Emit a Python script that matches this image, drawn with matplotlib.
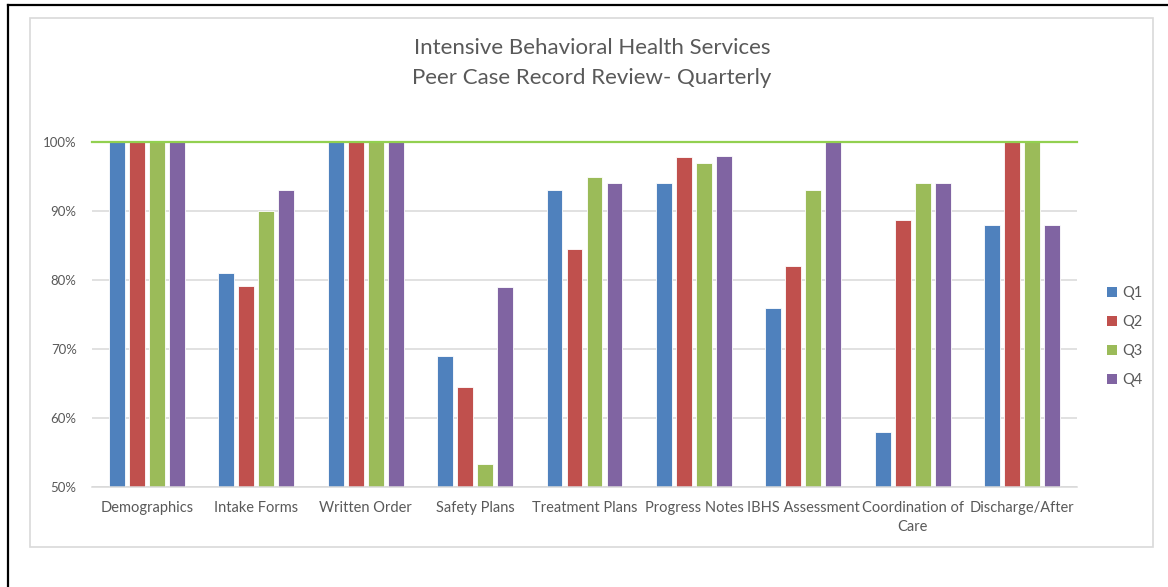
import numpy as np
import matplotlib
matplotlib.use("Agg")
import matplotlib.pyplot as plt
from matplotlib.patches import Rectangle, Patch
from matplotlib.lines import Line2D
from matplotlib.ticker import PercentFormatter

categories = ["Demographics", "Intake Forms", "Written Order", "Safety Plans",
              "Treatment Plans", "Progress Notes", "IBHS Assessment",
              "Coordination of\nCare", "Discharge/After"]
q1 = [1.00, 0.81, 1.00, 0.69, 0.93, 0.94, 0.76, 0.58, 0.88]
q2 = [1.00, 0.792, 1.00, 0.645, 0.845, 0.978, 0.82, 0.887, 1.00]
q3 = [1.00, 0.90, 1.00, 0.533, 0.95, 0.97, 0.93, 0.94, 1.00]
q4 = [1.00, 0.93, 1.00, 0.79, 0.94, 0.98, 1.00, 0.94, 0.88]
quarters = ["Q1", "Q2", "Q3", "Q4"]
colors = ["#4F81BD", "#C0504D", "#9BBB59", "#8064A2"]
target = 1.00

plt.rcParams["font.family"] = ["Lato", "DejaVu Sans"]
txt = "#595959"
W, H = 1168, 587
fig = plt.figure(figsize=(W / 100, H / 100), dpi=100)

# frame lines and chart-area box
fig.add_artist(Line2D([8 / W, 1], [1 - 5 / H, 1 - 5 / H], color="black", lw=1.6))
fig.add_artist(Line2D([8 / W, 8 / W], [0, 1 - 5 / H], color="black", lw=1.6))
fig.add_artist(Rectangle((30 / W, 1 - 547 / H), 1123 / W, 529 / H, fill=False,
                         edgecolor="#D9D9D9", lw=1.2))

ax = fig.add_axes([92 / W, 100 / H, 985 / W, 345 / H])
x = np.arange(len(categories))
pitch = 0.183
for i, (vals, c, name) in enumerate(zip([q1, q2, q3, q4], colors, quarters)):
    ax.bar(x + (i - 1.5) * pitch, np.array(vals) - 0.5, width=0.145, bottom=0.5,
           color=c, edgecolor="white", linewidth=0.6, label=name, zorder=2)

ax.axhline(target, color="#92D050", lw=1.6, zorder=3, clip_on=False)
ax.set_xlim(-0.5, len(categories) - 0.5)
ax.set_ylim(0.5, 1.0)
ax.set_yticks([0.5, 0.6, 0.7, 0.8, 0.9, 1.0])
ax.yaxis.set_major_formatter(PercentFormatter(1.0, decimals=0))
ax.grid(axis="y", color="#D9D9D9", lw=1.1, zorder=0)
ax.set_axisbelow(True)
for s in ["top", "right", "left"]:
    ax.spines[s].set_visible(False)
ax.spines["bottom"].set_color("#D9D9D9")
ax.spines["bottom"].set_linewidth(1.1)
ax.set_xticks(x)
ax.set_xticklabels(categories, linespacing=1.5)
ax.tick_params(axis="both", length=0, colors=txt)
ax.tick_params(axis="x", labelsize=10.5, pad=10)
ax.tick_params(axis="y", labelsize=9.5, pad=11)

fig.text(592 / W, 1 - 48 / H, "Intensive Behavioral Health Services",
         ha="center", va="center", fontsize=16, color=txt)
fig.text(592 / W, 1 - 78 / H, "Peer Case Record Review- Quarterly",
         ha="center", va="center", fontsize=16, color=txt)

handles = [Patch(facecolor=c) for c in colors]
fig.legend(handles, quarters, loc="center left", bbox_to_anchor=(1100 / W, 1 - 336.5 / H),
           frameon=False, fontsize=10.5, labelcolor=txt, handlelength=0.65,
           handleheight=0.65, handletextpad=0.35, labelspacing=1.02, borderpad=0)

fig.savefig("out.png", dpi=100, facecolor="white")
